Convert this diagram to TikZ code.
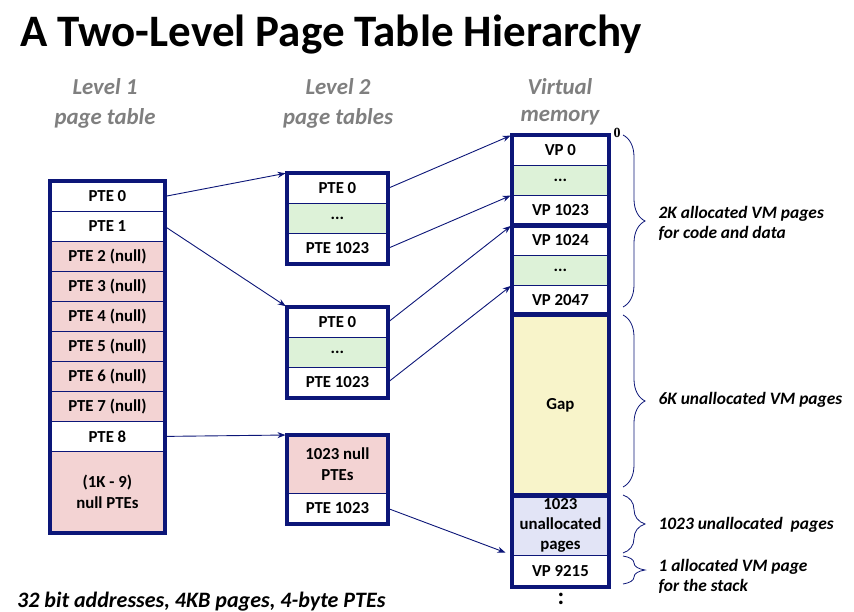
\documentclass[tikz,border=0pt]{standalone}
\usepackage{fontspec}
\setmainfont{Carlito}
\newfontfamily\serifzero{Liberation Serif}
\usetikzlibrary{arrows.meta,decorations.pathreplacing}
\definecolor{navy}{RGB}{12,22,120}
\definecolor{nullpink}{RGB}{243,211,211}
\definecolor{dotgreen}{RGB}{221,242,216}
\definecolor{gapyellow}{RGB}{248,244,202}
\definecolor{unalloc}{RGB}{226,228,246}
\definecolor{hdrgray}{RGB}{127,127,127}
\begin{document}
\begin{tikzpicture}[x=1pt,y=-1pt,
  cell/.style={draw=navy, line width=0.8pt, anchor=north west, inner sep=0pt,
    minimum height=30pt, align=center, text=black,
    font=\bfseries\fontsize{16.8}{20.5}\selectfont},
  lone/.style={cell, minimum width=114pt},
  ltwo/.style={cell, minimum width=100pt},
  vmc/.style={cell, minimum width=96pt},
  frame/.style={draw=navy, line width=3.6pt},
  ptr/.style={draw=navy, line width=0.9pt, -{Stealth[length=8pt,width=6pt]}, shorten >=1.5pt},
  brc/.style={draw=navy, line width=0.8pt, decorate, decoration={brace, amplitude=22pt}},
  hdr/.style={text=hdrgray, font=\bfseries\itshape\fontsize{22.8}{26}\selectfont},
  side/.style={anchor=west, align=left, text=black, font=\bfseries\itshape\fontsize{17.4}{20}\selectfont}
]
\useasboundingbox (0,0) rectangle (854,611);

% title
\node[anchor=base west, inner sep=0pt, font=\bfseries\fontsize{45}{50}\selectfont] (title) at (20,46) {A Two-Level Page Table Hierarchy};

% headers
\node[hdr] (h1a) at (105,87) {Level 1};
\node[hdr] (h1b) at (105,118) {page table};
\node[hdr] (h2a) at (338,87) {Level 2};
\node[hdr] (h2b) at (338,118) {page tables};
\node[hdr] (h3a) at (560,87) {Virtual};
\node[hdr] (h3b) at (560,118) {memory};

% level 1 page table
\node[lone, fill=white] (l1p0) at (50,181) {PTE 0};
\node[lone, fill=white] (l1p1) at (50,211) {PTE 1};
\node[lone, fill=nullpink] (l1p2) at (50,241) {PTE 2 (null)};
\node[lone, fill=nullpink] (l1p3) at (50,271) {PTE 3 (null)};
\node[lone, fill=nullpink] (l1p4) at (50,301) {PTE 4 (null)};
\node[lone, fill=nullpink] (l1p5) at (50,331) {PTE 5 (null)};
\node[lone, fill=nullpink] (l1p6) at (50,361) {PTE 6 (null)};
\node[lone, fill=nullpink] (l1p7) at (50,391) {PTE 7 (null)};
\node[lone, fill=white] (l1p8) at (50,421) {PTE 8};
\node[lone, fill=nullpink, minimum height=81pt] (l1r) at (50,451) {(1K - 9)\\null PTEs};
\draw[frame] (l1p0.north west) rectangle (l1r.south east);

% level 2 tables
\node[ltwo, fill=white] (l2a0) at (287,173) {PTE 0};
\node[ltwo, fill=dotgreen] (l2a1) at (287,203) {...};
\node[ltwo, fill=white] (l2a2) at (287,233) {PTE 1023};
\draw[frame] (l2a0.north west) rectangle (l2a2.south east);

\node[ltwo, fill=white] (l2b0) at (287,307) {PTE 0};
\node[ltwo, fill=dotgreen] (l2b1) at (287,337) {...};
\node[ltwo, fill=white] (l2b2) at (287,367) {PTE 1023};
\draw[frame] (l2b0.north west) rectangle (l2b2.south east);

\node[ltwo, fill=nullpink, minimum height=58pt] (l2c0) at (287,435) {1023 null\\PTEs};
\node[ltwo, fill=white] (l2c1) at (287,493) {PTE 1023};
\draw[frame] (l2c0.north west) rectangle (l2c1.south east);

% virtual memory
\node[vmc, fill=white] (vm0) at (512,135) {VP 0};
\node[vmc, fill=dotgreen] (vm1) at (512,165) {...};
\node[vmc, fill=white] (vm2) at (512,195) {VP 1023};
\node[vmc, fill=white] (vm3) at (512,225) {VP 1024};
\node[vmc, fill=dotgreen] (vm4) at (512,255) {...};
\node[vmc, fill=white, minimum height=29pt] (vm5) at (512,285) {VP 2047};
\node[vmc, fill=gapyellow, minimum height=181pt] (gap) at (512,314) {Gap};
\node[vmc, fill=unalloc, minimum height=60pt, font=\bfseries\fontsize{16.8}{20}\selectfont] (una) at (512,495) {1023\\unallocated\\pages};
\node[vmc, fill=white, minimum height=31pt] (vp9215) at (512,555) {VP 9215};
\draw[frame] (vm0.north west) rectangle (vm2.south east);
\draw[frame] (vm3.north west) rectangle (vm5.south east);
\draw[frame] (gap.north west) rectangle (gap.south east);
\draw[frame] (una.north west) rectangle (vp9215.south east);
\node[font=\bfseries\fontsize{24}{24}\selectfont] (vdots) at (561,599) {:};
\node[font=\serifzero\bfseries\fontsize{14}{14}\selectfont, inner sep=0pt] (zero) at (617,133) {0};

% pointers
\draw[ptr] (l1p0.east) -- (l2a0.north west);
\draw[ptr] (l1p1.east) -- (l2b0.north west);
\draw[ptr] (l1p8.east) -- (l2c0.north west);
\draw[ptr] (l2a0.east) -- (vm0.north west);
\draw[ptr] (l2a2.east) -- (vm2.north west);
\draw[ptr] (l2b0.east) -- (vm3.north west);
\draw[ptr] (l2b2.east) -- (vm5.north west);
\draw[ptr, shorten >=7pt] (l2c1.east) -- (vp9215.north west);

% braces
\coordinate (b1t) at (623,135); \coordinate (b1b) at (623,307);
\coordinate (b2t) at (623,315); \coordinate (b2b) at (623,487);
\coordinate (b3t) at (623,495); \coordinate (b3b) at (623,553);
\coordinate (b4t) at (623,556); \coordinate (b4b) at (623,584);
\draw[brc] (b1t) -- (b1b);
\draw[brc] (b2t) -- (b2b);
\draw[brc] (b3t) -- (b3b);
\draw[brc] (b4t) -- (b4b);

\node[side] (s1) at (655,223) {2K allocated VM pages\\for code and data};
\node[side] (s2) at (655,400) {6K unallocated VM pages};
\node[side] (s3) at (655,525) {1023 unallocated\ \ pages};
\node[side] (s4) at (655,576) {1 allocated VM page\\for the stack};

% footer
\node[anchor=base west, inner sep=0pt, font=\bfseries\itshape\fontsize{22}{24}\selectfont] (foot) at (17,607) {32 bit addresses, 4KB pages, 4-byte PTEs};
\end{tikzpicture}
\end{document}
